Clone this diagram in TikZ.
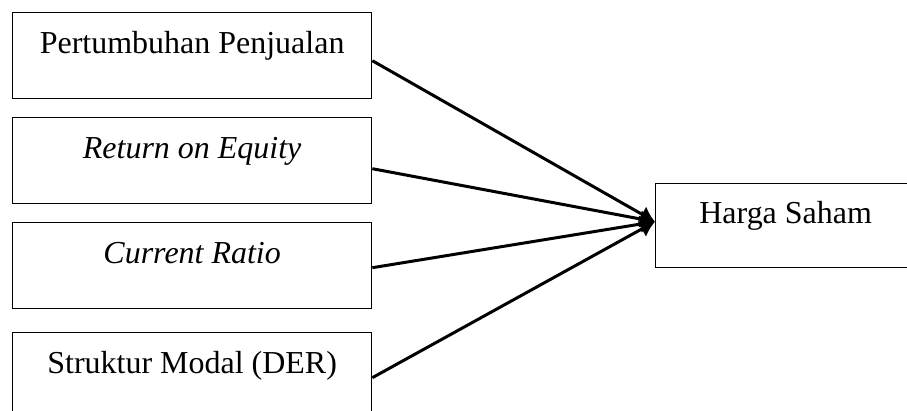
\documentclass[tikz,border=0pt]{standalone}
\usepackage{fontspec}
\setmainfont{Liberation Serif}
\usetikzlibrary{arrows.meta, positioning, calc}
\tikzstyle{variabel} = [draw, line width=0.8pt, rectangle, anchor=north west, inner sep=0pt, minimum width=7.18cm, text height=0.81cm, text depth=0.91cm, font=\fontsize{18.2}{22}\selectfont]
\tikzstyle{panah} = [line width=1.7pt, -{Latex[length=0.3cm, width=0.36cm]}]

\begin{document}
\begin{tikzpicture}[x=0.02cm, y=-0.02cm]
	\clip (0,0) rectangle (907,410);
	\node [variabel] (pp) at (12,12) {Pertumbuhan Penjualan};
	\node [variabel] (roe) at (12,117) {\textit{Return on Equity}};
	\node [variabel] (cr) at (12,222) {\textit{Current Ratio}};
	\node [variabel] (der) at (12,332) {Struktur Modal (DER)};
	\node [variabel, minimum width=5.2cm, text height=0.79cm, text depth=0.89cm] (hs) at (655,183) {Harga Saham};
	\coordinate (tip) at ($(hs.west)+(0,-4)$);
	\draw [panah] ($(pp.east)+(0,5)$) -- (tip);
	\draw [panah] ($(roe.east)+(0,8)$) -- (tip);
	\draw [panah] ($(cr.east)+(0,2)$) -- (tip);
	\draw [panah] ($(der.east)+(0,2)$) -- (tip);
\end{tikzpicture}
\end{document}
